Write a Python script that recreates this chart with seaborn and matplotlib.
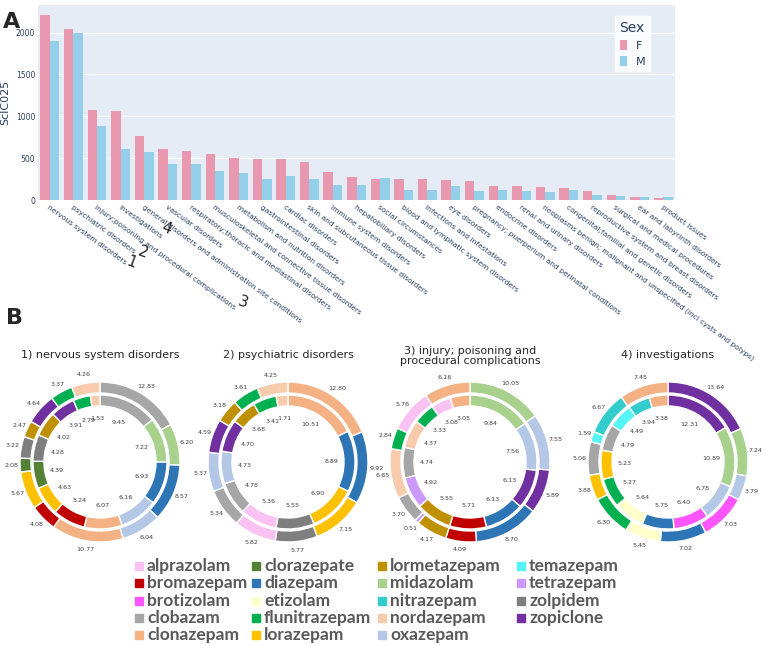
import matplotlib
matplotlib.use("Agg")
import matplotlib.pyplot as plt
import seaborn as sns
import pandas as pd
import numpy as np

categories = ["nervous system disorders","psychiatric disorders","injury;poisoning and procedural complications",
 "investigations","general disorders and administration site conditions","vascular disorders",
 "respiratory;thoracic and mediastinal disorders","musculoskeletal and connective tissue disorders",
 "metabolism and nutrition disorders","gastrointestinal disorders","cardiac disorders",
 "skin and subcutaneous tissue disorders","immune system disorders","hepatobiliary disorders",
 "social circumstances","blood and lymphatic system disorders","infections and infestations",
 "eye disorders","pregnancy; puerperium and perinatal conditions","endocrine disorders",
 "renal and urinary disorders","neoplasms benign; malignant and unspecified (incl cysts and polyps)",
 "congenital;familial and genetic disorders","reproductive system and breast disorders",
 "surgical and medical procedures","ear and labyrinth disorders","product issues"]
female = [2210,2040,1080,1065,760,615,580,550,500,485,485,455,330,275,250,245,245,235,230,170,170,150,140,110,65,35,25]
male = [1900,2000,890,615,570,425,435,345,320,250,285,250,185,180,265,115,120,165,110,115,110,90,125,55,45,40,30]

drug_colors = {"alprazolam":"#f9c2f3","bromazepam":"#c00000","brotizolam":"#ff55ff","clobazam":"#a6a6a6",
 "clonazepam":"#f4b183","clorazepate":"#548235","diazepam":"#2e75b6","etizolam":"#ffffcc",
 "flunitrazepam":"#00b050","lorazepam":"#ffc000","lormetazepam":"#bf9000","midazolam":"#a9d18e",
 "nitrazepam":"#33cccc","nordazepam":"#f8cbad","oxazepam":"#b4c7e7","temazepam":"#55f5f5",
 "tetrazepam":"#cc99ff","zolpidem":"#7f7f7f","zopiclone":"#7030a0"}

d1_drugs = ["clobazam","midazolam","diazepam","oxazepam","clonazepam","bromazepam","lorazepam","clorazepate","zolpidem","lormetazepam","zopiclone","flunitrazepam","nordazepam"]
d1_outer = [12.83,6.20,8.57,6.04,10.77,4.08,5.67,2.08,3.22,2.47,4.64,3.37,4.26]
d1_inner = [9.45,7.22,6.93,6.16,6.07,5.24,4.63,4.39,4.28,4.02,3.91,2.79,1.53]
d2_drugs = ["clonazepam","diazepam","lorazepam","zolpidem","alprazolam","clobazam","oxazepam","zopiclone","lormetazepam","flunitrazepam","nordazepam"]
d2_outer = [12.80,9.92,7.15,5.77,5.82,5.34,5.37,4.59,3.18,3.61,4.25]
d2_inner = [10.51,8.89,6.90,5.55,5.36,4.78,4.73,4.70,3.68,3.41,1.71]
d3_drugs = ["midazolam","oxazepam","zopiclone","diazepam","bromazepam","lormetazepam","tetrazepam","clobazam","nordazepam","flunitrazepam","alprazolam","clonazepam"]
d3_outer = [10.05,7.55,5.89,8.70,4.09,4.17,0.51,3.70,6.65,2.84,5.76,6.16]
d3_inner = [9.84,7.56,6.13,6.13,5.71,5.55,4.92,4.74,4.37,3.33,3.08,3.05]
d4_drugs = ["zopiclone","midazolam","oxazepam","brotizolam","diazepam","etizolam","flunitrazepam","lorazepam","clobazam","temazepam","nitrazepam","clonazepam"]
d4_outer = [13.64,7.24,3.79,7.03,7.02,5.45,6.30,3.88,5.06,1.59,6.67,7.45]
d4_inner = [12.31,10.89,6.78,6.40,5.75,5.64,5.27,5.23,4.79,4.49,3.94,3.38]
titles = ["1) nervous system disorders","2) psychiatric disorders","3) injury; poisoning and\nprocedural complications","4) investigations"]

W, H = 767, 646
fig = plt.figure(figsize=(W/100, H/100), dpi=100)
def ax_px(l, t, r, b):
    return fig.add_axes([l/W, 1-b/H, (r-l)/W, (b-t)/H])

sns.set_style("white")
ax = ax_px(38, 5, 675, 200)
ax.set_facecolor("#e5ecf6")
df = pd.DataFrame({"cat": categories*2, "val": female+male, "Sex": ["F"]*len(female)+["M"]*len(male)})
sns.barplot(data=df, x="cat", y="val", hue="Sex", palette={"F":"#e899b0","M":"#94cfe9"}, ax=ax,
            width=0.8, saturation=1, linewidth=0)
ax.set_ylim(0, 2330)
ax.set_xlim(-0.5, len(categories)-0.5)
ax.set_yticks([0,500,1000,1500,2000])
ax.grid(axis="y", color="white", linewidth=0.8)
ax.set_axisbelow(True)
for s in ax.spines.values(): s.set_visible(False)
ax.tick_params(axis="y", labelsize=5.5, colors="#2a3f5f", length=0, pad=2)
ax.tick_params(axis="x", length=0, pad=3)
ax.set_xticks(range(len(categories)))
ax.set_xticklabels(categories, rotation=-36, ha="left", rotation_mode="anchor", fontsize=5.4, color="#2a3f5f")
ax.set_xlabel("")
ax.set_ylabel("SclC025", fontsize=8, color="#2a3f5f", labelpad=4)
leg = ax.legend(title="Sex", loc="upper right", bbox_to_anchor=(0.97, 0.97), fontsize=8, title_fontsize=10,
                frameon=True, fancybox=False, handlelength=0.7, handleheight=0.9, alignment="left")
leg.get_frame().set_edgecolor("white")
for t in leg.get_texts(): t.set_color("#2a3f5f")
leg.get_title().set_color("#2a3f5f")

fig.text(3/W, 1-22/H, "A", fontsize=16, fontweight="bold", va="center")
fig.text(6/W, 1-318/H, "B", fontsize=16, fontweight="bold", va="center")
for s, (x, y) in zip(["1","2","3","4"], [(131,262),(143,252),(243,302),(166,228)]):
    fig.text(x/W, 1-y/H, s, fontsize=11, va="center", ha="center", rotation=-20)

centers = [100, 288, 470, 668]
donuts = [(d1_drugs,d1_outer,d1_inner),(d2_drugs,d2_outer,d2_inner),(d3_drugs,d3_outer,d3_inner),(d4_drugs,d4_outer,d4_inner)]
R = 95
for cx, (drugs, outer, inner), title in zip(centers, donuts, titles):
    cy = 462
    a = ax_px(cx-R, cy-R, cx+R, cy+R)
    a.set_aspect("equal")
    cols = [drug_colors[d] for d in drugs]
    ro, ri = 80/R, 67/R
    a.pie(outer, radius=ro, colors=cols, startangle=90, counterclock=False,
          wedgeprops=dict(width=11/R, edgecolor="white", linewidth=1))
    a.pie(inner, radius=ri, colors=cols, startangle=90, counterclock=False,
          wedgeprops=dict(width=11/R, edgecolor="white", linewidth=1))
    for vals, rad in [(outer, ro+0.09), (inner, ri-11/R-0.13)]:
        tot = sum(vals); cum = 0
        for v in vals:
            ang = np.deg2rad(90 - 360*(cum + v/2)/tot)
            cum += v
            a.text(rad*np.cos(ang), rad*np.sin(ang), f"{v:.2f}", fontsize=4.6, ha="center", va="center", color="#404040")
    a.set_xlim(-1, 1); a.set_ylim(-1, 1)
    a.axis("off")
    if "\n" in title:
        fig.text(cx/W, 1-356/H, title, fontsize=8, ha="center", va="center", linespacing=1.0)
    else:
        fig.text(cx/W, 1-355/H, title, fontsize=8, ha="center", va="center")

legend_cols = [["alprazolam","bromazepam","brotizolam","clobazam","clonazepam"],
               ["clorazepate","diazepam","etizolam","flunitrazepam","lorazepam"],
               ["lormetazepam","midazolam","nitrazepam","nordazepam","oxazepam"],
               ["temazepam","tetrazepam","zolpidem","zopiclone"]]
colx = [135, 252, 378, 517]
for x, names in zip(colx, legend_cols):
    for i, n in enumerate(names):
        y = 566 + i*17.3
        fig.patches.append(plt.Rectangle((x/W, 1-(y+4)/H), 8/W, 8/H, transform=fig.transFigure,
                                         color=drug_colors[n], figure=fig))
        fig.text((x+12)/W, 1-y/H, n, fontsize=12.5, fontweight="bold", color="#595959", va="center",
                 family=["Lato", "DejaVu Sans"])

fig.savefig("out.png", dpi=100)
